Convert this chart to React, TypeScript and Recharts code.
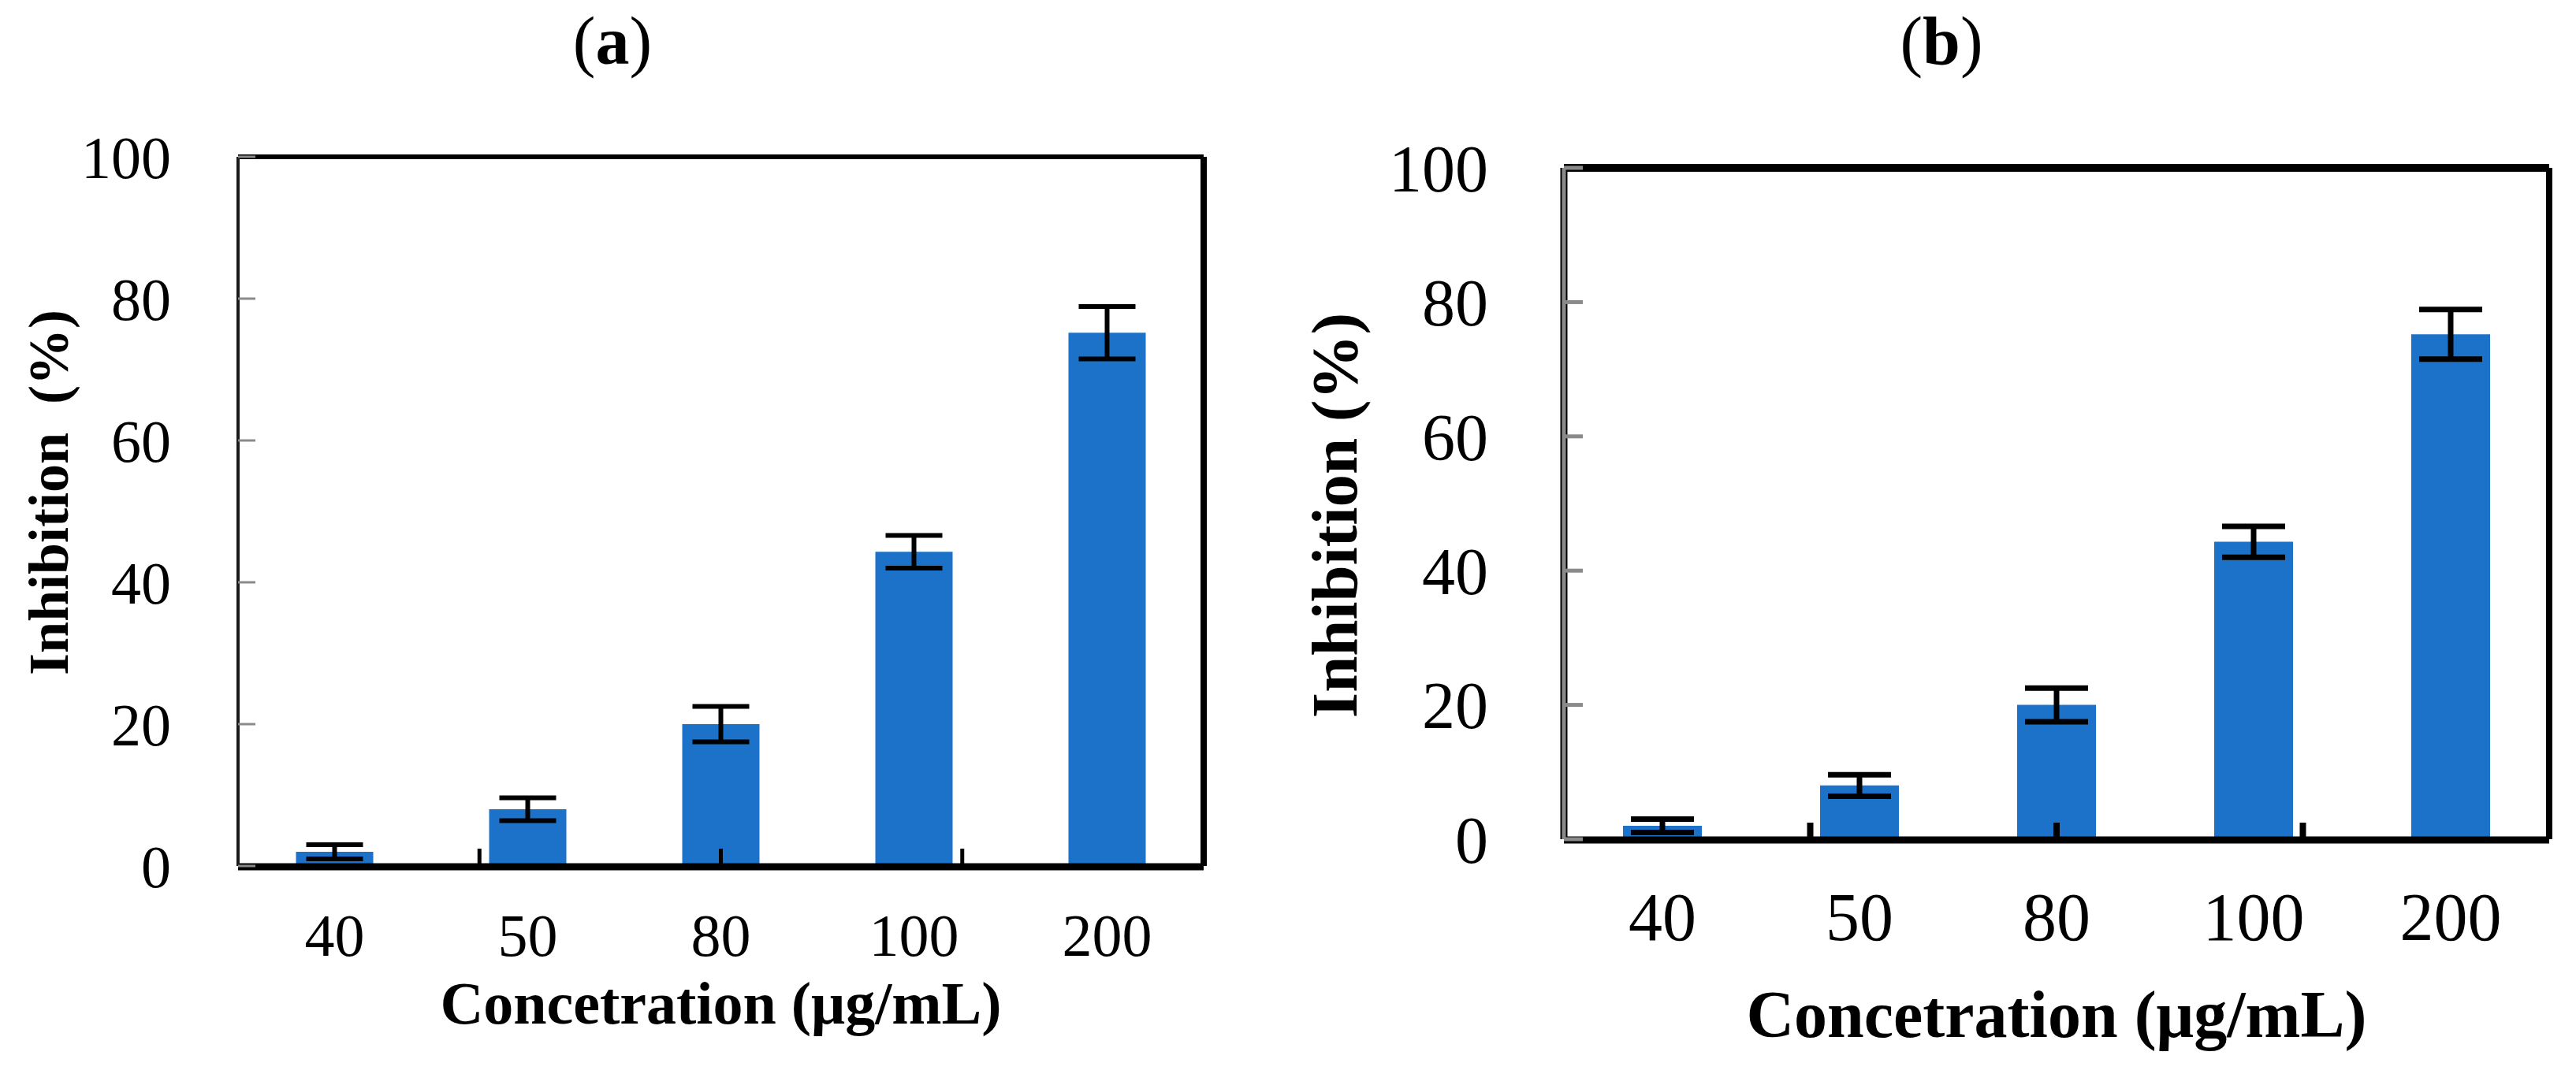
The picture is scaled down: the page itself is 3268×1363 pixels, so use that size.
import React from 'react';
import { BarChart, Bar, XAxis, YAxis, ErrorBar, Label } from 'recharts';

const categories = ['40', '50', '80', '100', '200'];
const inhibition = [2.0, 8.0, 20.0, 44.3, 75.2];
const errors = [1.0, 1.6, 2.5, 2.3, 3.7];
const yTicks = [0, 20, 40, 60, 80, 100];
const boundaryTicks = [1, 2, 3, 4];

const data = categories.map((c, i) => ({ conc: c, value: inhibition[i], err: errors[i] }));

const FONT = '"Liberation Serif", "Times New Roman", serif';
const BLUE = '#1B72C8';

const NoTick = () => <g />;

type PanelCfg = {
  left: number;
  margin: { top: number; right: number; bottom: number; left: number };
  tickFont: number;
  xTickFont: number;
  yTickSize: number;
  yTickMargin: number;
  yTickStroke: number;
  xTickSize: number;
  xTickStroke: number;
  xTickMargin: number;
  leftAxisStroke: string;
  leftAxisWidth: number;
  underlay: boolean;
  topWidth: number;
  rightWidth: number;
  bottomWidth: number;
  errWidth: number;
  errStroke: number;
  xTitleFont: number;
  xTitleBaseline: number;
  yTitleFont: number;
  yTitleOffsetX: number;
  yTitleOffsetY: number;
  yTitle: string;
};

const Panel = ({ cfg }: { cfg: PanelCfg }) => {
  const renderXTitle = (props: any) => {
    const vb = props.viewBox || {};
    return (
      <text
        x={vb.x + vb.width / 2}
        y={vb.y + cfg.xTitleBaseline}
        textAnchor="middle"
        fontFamily={FONT}
        fontWeight="bold"
        fontSize={cfg.xTitleFont}
        fill="#000"
      >
        Concetration (μg/mL)
      </text>
    );
  };
  const renderYTitle = (props: any) => {
    const vb = props.viewBox || {};
    const cx = vb.x + vb.width + cfg.yTitleOffsetX;
    const cy = vb.y + vb.height / 2 + cfg.yTitleOffsetY;
    return (
      <text
        transform={`translate(${cx}, ${cy}) rotate(-90)`}
        textAnchor="middle"
        fontFamily={FONT}
        fontWeight="bold"
        fontSize={cfg.yTitleFont}
        fill="#000"
        style={{ whiteSpace: 'pre' }}
      >
        {cfg.yTitle}
      </text>
    );
  };
  return (
    <div style={{ position: 'absolute', left: cfg.left, top: 0 }}>
      <BarChart
        width={1634}
        height={1363}
        data={data}
        margin={cfg.margin}
        barCategoryGap="30%"
      >
        <XAxis
          xAxisId="bounds"
          type="number"
          domain={[0, categories.length]}
          allowDataOverflow
          ticks={boundaryTicks}
          interval={0}
          height={1}
          tick={NoTick}
          axisLine={false}
          tickSize={cfg.xTickSize}
          tickLine={{ stroke: '#000', strokeWidth: cfg.xTickStroke }}
        />
        <XAxis
          xAxisId="cat"
          dataKey="conc"
          height={1}
          tickSize={0}
          tickLine={false}
          tickMargin={cfg.xTickMargin}
          axisLine={{ stroke: '#000', strokeWidth: cfg.bottomWidth }}
          tick={{ fontSize: cfg.xTickFont, fill: '#000', fontFamily: FONT }}
          interval={0}
        >
          <Label content={renderXTitle} />
        </XAxis>
        <XAxis
          xAxisId="top"
          orientation="top"
          dataKey="conc"
          height={1}
          tick={false}
          tickLine={false}
          axisLine={{ stroke: '#000', strokeWidth: cfg.topWidth }}
        />
        {cfg.underlay && (
          <YAxis
            yAxisId="edge"
            domain={[0, 100]}
            width={1}
            mirror
            tick={false}
            tickLine={false}
            axisLine={{ stroke: '#000', strokeWidth: 9 }}
          />
        )}
        <YAxis
          yAxisId="val"
          domain={[0, 100]}
          ticks={yTicks}
          width={1}
          tickSize={cfg.yTickSize}
          tickMargin={cfg.yTickMargin}
          tickLine={{ stroke: '#8a8a8a', strokeWidth: cfg.yTickStroke }}
          axisLine={{ stroke: cfg.leftAxisStroke, strokeWidth: cfg.leftAxisWidth }}
          tick={{ fontSize: cfg.tickFont, fill: '#000', fontFamily: FONT }}
          interval={0}
        >
          <Label content={renderYTitle} />
        </YAxis>
        <YAxis
          yAxisId="right"
          orientation="right"
          domain={[0, 100]}
          width={1}
          tick={false}
          tickLine={false}
          axisLine={{ stroke: '#000', strokeWidth: cfg.rightWidth }}
        />
        <Bar dataKey="value" xAxisId="cat" yAxisId="val" fill={BLUE} isAnimationActive={false}>
          <ErrorBar
            dataKey="err"
            direction="y"
            width={cfg.errWidth}
            strokeWidth={cfg.errStroke}
            stroke="#000"
            isAnimationActive={false}
          />
        </Bar>
      </BarChart>
    </div>
  );
};

const panelA: PanelCfg = {
  left: 0,
  margin: { top: 198, right: 106, bottom: 262, left: 301 },
  tickFont: 76,
  xTickFont: 76,
  yTickSize: -22,
  yTickMargin: 107,
  yTickStroke: 3,
  xTickSize: -22,
  xTickStroke: 5,
  xTickMargin: 59,
  leftAxisStroke: '#1a1a1a',
  leftAxisWidth: 4,
  underlay: false,
  topWidth: 6,
  rightWidth: 8,
  bottomWidth: 9,
  errWidth: 36,
  errStroke: 6,
  xTitleFont: 76,
  xTitleBaseline: 199,
  yTitleFont: 72,
  yTitleOffsetX: -216,
  yTitleOffsetY: -24,
  yTitle: 'Inhibition\u00a0\u00a0(%)',
};

const panelB: PanelCfg = {
  left: 1634,
  margin: { top: 212, right: 33, bottom: 296, left: 349 },
  tickFont: 84,
  xTickFont: 86,
  yTickSize: -24,
  yTickMargin: 120,
  yTickStroke: 5,
  xTickSize: -21,
  xTickStroke: 8,
  xTickMargin: 66,
  leftAxisStroke: '#8a8a8a',
  leftAxisWidth: 5,
  underlay: true,
  topWidth: 10,
  rightWidth: 8,
  bottomWidth: 9,
  errWidth: 40,
  errStroke: 7,
  xTitleFont: 84,
  xTitleBaseline: 250,
  yTitleFont: 83,
  yTitleOffsetX: -263,
  yTitleOffsetY: 15,
  yTitle: 'Inhibition (%)',
};

export default function App() {
  return (
    <div
      style={{
        position: 'absolute',
        left: 0,
        top: 0,
        width: 3268,
        height: 1363,
        background: '#fff',
        overflow: 'hidden',
      }}
    >
      <Panel cfg={panelA} />
      <Panel cfg={panelB} />
      <svg
        width={3268}
        height={140}
        style={{ position: 'absolute', left: 0, top: 0, pointerEvents: 'none' }}
      >
        <text x={777} y={81} textAnchor="middle" fontFamily={FONT} fontSize={86} fill="#000">
          (<tspan fontWeight="bold">a</tspan>)
        </text>
        <text x={2463} y={81} textAnchor="middle" fontFamily={FONT} fontSize={86} fill="#000">
          (<tspan fontWeight="bold">b</tspan>)
        </text>
      </svg>
    </div>
  );
}
